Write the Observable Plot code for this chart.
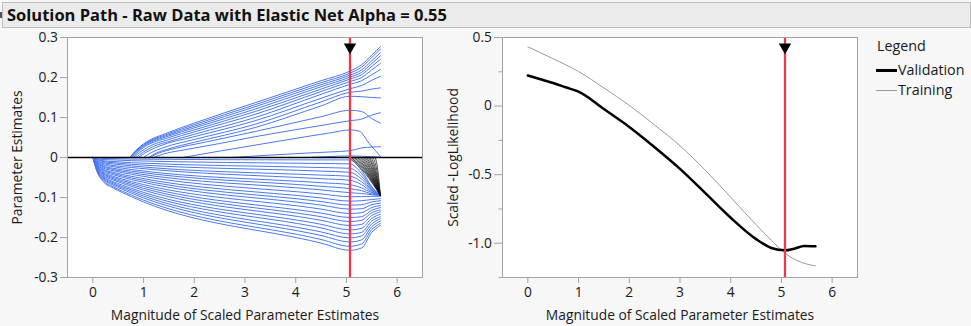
<!DOCTYPE html>
<html><head><meta charset="utf-8">
<script src="https://cdn.jsdelivr.net/npm/d3@7"></script>
<script src="https://cdn.jsdelivr.net/npm/@observablehq/plot@0.6"></script>
<style>
html,body{margin:0;padding:0;background:#f7f7f7;width:971px;height:326px;overflow:hidden;font-family:"Open Sans","Noto Sans",sans-serif;color:#1a1a1a;}
#title{position:absolute;left:2px;top:2px;width:967px;height:24px;background:#ebebeb;border:1px solid #bdbdbd;}
#title span{position:absolute;left:4px;top:0;line-height:24px;font-weight:bold;font-size:16.5px;color:#111;white-space:nowrap;}
#icon{position:absolute;left:0;top:12px;width:2px;height:6px;background:#555;}
.pl{position:absolute;top:0;}
.lg{position:absolute;font-size:14.3px;line-height:18px;white-space:nowrap;}
</style></head>
<body>
<div id="title"><span>Solution Path - Raw Data with Elastic Net Alpha = 0.55</span></div>
<div id="icon"></div>
<div id="left" class="pl" style="left:0px"></div>
<div id="right" class="pl" style="left:435px"></div>
<div class="lg" style="left:877px;top:37px">Legend</div>
<svg style="position:absolute;left:876px;top:60px" width="22" height="40">
  <line x1="0" x2="21" y1="10.5" y2="10.5" stroke="#000" stroke-width="3"/>
  <line x1="0" x2="21" y1="30.5" y2="30.5" stroke="#999" stroke-width="1"/>
</svg>
<div class="lg" style="left:898px;top:61px">Validation</div>
<div class="lg" style="left:898px;top:81px">Training</div>
<script>
// ---------- data ----------
const xTicks = [0, 1, 2, 3, 4, 5, 6];
const leftYTicks = [-0.3, -0.2, -0.1, 0, 0.1, 0.2, 0.3];
const rightYTicks = [-1.0, -0.5, 0, 0.5];
const rightYMinor = [-1.25, -0.75, -0.25, 0.25];
const selectedX = 5.07;

// negative parameter paths: y values at these knots
const negKnotsX = [0, 0.07, 0.2, 0.4, 0.76, 4.5, 5.07, 5.3, 5.5, 5.67];
const negLines = [
  [0,-0.001,-0.002,-0.003,-0.004,-0.006,-0.006,-0.033,-0.073,-0.095],
  [0,-0.003,-0.005,-0.006,-0.008,-0.015,-0.016,-0.040,-0.075,-0.095],
  [0,-0.004,-0.008,-0.010,-0.013,-0.025,-0.027,-0.047,-0.078,-0.095],
  [0,-0.005,-0.010,-0.013,-0.017,-0.034,-0.037,-0.054,-0.081,-0.095],
  [0,-0.007,-0.013,-0.016,-0.021,-0.044,-0.047,-0.061,-0.083,-0.095],
  [0,-0.008,-0.015,-0.020,-0.025,-0.053,-0.057,-0.068,-0.086,-0.095],
  [0,-0.010,-0.018,-0.023,-0.030,-0.063,-0.068,-0.076,-0.088,-0.095],
  [0,-0.011,-0.021,-0.027,-0.034,-0.072,-0.078,-0.083,-0.091,-0.095],
  [0,-0.012,-0.023,-0.030,-0.038,-0.081,-0.088,-0.090,-0.093,-0.095],
  [0,-0.013,-0.026,-0.033,-0.042,-0.091,-0.098,-0.098,-0.097,-0.097],
  [0,-0.015,-0.029,-0.037,-0.047,-0.101,-0.109,-0.108,-0.105,-0.103],
  [0,-0.016,-0.031,-0.040,-0.051,-0.110,-0.119,-0.118,-0.111,-0.108],
  [0,-0.018,-0.034,-0.043,-0.055,-0.119,-0.129,-0.128,-0.118,-0.114],
  [0,-0.019,-0.037,-0.047,-0.060,-0.129,-0.140,-0.138,-0.125,-0.120],
  [0,-0.020,-0.039,-0.050,-0.064,-0.139,-0.150,-0.148,-0.132,-0.125],
  [0,-0.022,-0.041,-0.053,-0.068,-0.148,-0.160,-0.157,-0.138,-0.131],
  [0,-0.023,-0.044,-0.056,-0.072,-0.157,-0.170,-0.167,-0.145,-0.136],
  [0,-0.025,-0.047,-0.060,-0.077,-0.167,-0.181,-0.177,-0.152,-0.142],
  [0,-0.026,-0.049,-0.063,-0.081,-0.176,-0.191,-0.187,-0.159,-0.148],
  [0,-0.027,-0.052,-0.066,-0.085,-0.186,-0.201,-0.196,-0.166,-0.153],
  [0,-0.028,-0.054,-0.069,-0.089,-0.195,-0.211,-0.206,-0.173,-0.159],
  [0,-0.030,-0.057,-0.073,-0.094,-0.205,-0.222,-0.216,-0.180,-0.165],
  [0,-0.031,-0.060,-0.076,-0.098,-0.214,-0.232,-0.226,-0.187,-0.170]
];

// positive parameter paths: [x, y] points
const posLines = [
  [[0.73,0],[0.85,0.018],[1.0,0.034],[1.5,0.063],[2.0,0.086],[3.2,0.137],[4.5,0.192],[5.07,0.216],[5.3,0.232],[5.5,0.256],[5.67,0.277]],
  [[0.73,0],[0.85,0.017],[1.0,0.032],[1.5,0.060],[2.0,0.082],[3.2,0.132],[4.5,0.187],[5.07,0.211],[5.3,0.226],[5.5,0.250],[5.67,0.271]],
  [[0.74,0],[0.86,0.016],[1.0,0.030],[1.5,0.057],[2.0,0.078],[3.2,0.127],[4.5,0.182],[5.07,0.206],[5.3,0.219],[5.5,0.242],[5.67,0.262]],
  [[0.75,0],[0.87,0.015],[1.0,0.028],[1.5,0.054],[2.0,0.074],[3.2,0.121],[4.5,0.177],[5.07,0.201],[5.3,0.213],[5.5,0.235],[5.67,0.254]],
  [[0.77,0],[0.9,0.015],[1.0,0.025],[1.5,0.050],[2.0,0.069],[3.2,0.115],[4.5,0.171],[5.07,0.196],[5.3,0.207],[5.5,0.228],[5.67,0.245]],
  [[0.8,0],[0.95,0.015],[1.1,0.027],[1.5,0.045],[2.0,0.064],[3.2,0.108],[4.5,0.165],[5.07,0.190],[5.3,0.200],[5.5,0.219],[5.67,0.235]],
  [[0.85,0],[1.0,0.014],[1.2,0.028],[1.5,0.040],[2.0,0.058],[3.2,0.100],[4.5,0.158],[5.07,0.183],[5.3,0.192],[5.5,0.207],[5.67,0.220]],
  [[0.9,0],[1.05,0.013],[1.3,0.028],[2.0,0.052],[3.2,0.092],[4.5,0.148],[5.07,0.172],[5.3,0.180],[5.5,0.193],[5.67,0.203]],
  [[1.0,0],[1.15,0.012],[1.4,0.025],[2.0,0.045],[3.2,0.083],[4.5,0.139],[5.07,0.163],[5.3,0.166],[5.5,0.171],[5.67,0.174]],
  [[1.1,0],[1.25,0.011],[1.5,0.022],[2.0,0.038],[3.2,0.075],[4.5,0.129],[5.07,0.153],[5.3,0.152],[5.5,0.150],[5.67,0.149]],
  [[1.12,0],[1.3,0.011],[1.6,0.022],[2.2,0.038],[3.2,0.065],[4.5,0.102],[5.07,0.118],[5.3,0.115],[5.5,0.097],[5.67,0.086]],
  [[1.2,0],[1.4,0.009],[1.8,0.019],[2.5,0.035],[3.2,0.052],[4.5,0.080],[5.07,0.092],[5.3,0.096],[5.5,0.106],[5.67,0.112]],
  [[1.77,0],[2.5,0.016],[3.2,0.031],[4.2,0.052],[4.7,0.062],[5.07,0.069],[5.25,0.066],[5.45,0.035],[5.67,0.003]],
  [[2.72,0],[3.5,0.006],[4.2,0.011],[4.7,0.014],[5.07,0.017],[5.3,0.024],[5.5,0.026],[5.67,0.027]],
  [[4.2,0],[4.6,0.002],[5.07,0.004],[5.3,0.003],[5.67,0.001]]
];

// late-entering paths drawn in black: [start, mid, end] points
const blackLines = [
  [[5.07,0],[5.37,-0.040],[5.67,-0.095]],
  [[5.10,0],[5.385,-0.039],[5.67,-0.095]],
  [[5.13,0],[5.40,-0.038],[5.67,-0.095]],
  [[5.16,0],[5.415,-0.038],[5.67,-0.095]],
  [[5.19,0],[5.43,-0.037],[5.67,-0.095]],
  [[5.22,0],[5.445,-0.037],[5.67,-0.095]],
  [[5.25,0],[5.46,-0.036],[5.67,-0.095]],
  [[5.28,0],[5.475,-0.036],[5.67,-0.095]],
  [[5.31,0],[5.49,-0.035],[5.67,-0.095]],
  [[5.34,0],[5.505,-0.035],[5.67,-0.095]],
  [[5.37,0],[5.52,-0.034],[5.67,-0.095]],
  [[5.40,0],[5.535,-0.034],[5.67,-0.095]],
  [[5.43,0],[5.55,-0.033],[5.67,-0.095]],
  [[5.46,0],[5.565,-0.033],[5.67,-0.095]],
  [[5.49,0],[5.58,-0.032],[5.67,-0.095]],
  [[5.53,0],[5.60,-0.032],[5.67,-0.095]],
  [[5.57,0],[5.62,-0.032],[5.67,-0.095]]
];

const trainX = [0, 0.5, 1, 1.5, 2, 2.5, 3, 3.5, 4, 4.5, 4.8, 5.07, 5.3, 5.5, 5.67];
const trainY = [0.432, 0.345, 0.252, 0.132, 0.005, -0.138, -0.29, -0.468, -0.665, -0.865, -0.978, -1.072, -1.125, -1.152, -1.165];
const validX = [0, 0.3, 0.5, 0.76, 1, 1.5, 2, 2.5, 3, 3.5, 4, 4.5, 4.8, 5.07, 5.25, 5.45, 5.67];
const validY = [0.223, 0.19, 0.168, 0.135, 0.105, -0.022, -0.152, -0.3, -0.458, -0.635, -0.814, -0.97, -1.035, -1.052, -1.04, -1.02, -1.023];

// ---------- styles ----------
const blue = "#4a78ee";
const red = "#e8394d";
const frameGray = "#a3a3a3";
const textColor = "#1a1a1a";
const fontFamily = '"Open Sans","Noto Sans",sans-serif';
const tickFont = 13.8;
const titleFont = 13.8;
const fmt = d => (d === 0 ? "0" : d.toFixed(1));

// ---------- tables ----------
const negData = negLines.flatMap((ys, i) => ys.map((y, j) => ({id: "n" + i, x: negKnotsX[j], y})));
const posData = posLines.flatMap((pts, i) => pts.map(([x, y]) => ({id: "p" + i, x, y})));
const blkData = blackLines.flatMap((pts, i) => pts.map(([x, y]) => ({id: "b" + i, x, y})));
const trainData = trainX.map((x, i) => ({x, y: trainY[i]}));
const validData = validX.map((x, i) => ({x, y: validY[i]}));

const common = {
  width: 423, height: 326,
  marginLeft: 67, marginRight: 1, marginTop: 37, marginBottom: 49,
  style: {background: "transparent", fontFamily, fontSize: "14px", color: textColor, overflow: "visible"}
};
const xAxis = () => Plot.axisX({ticks: xTicks, tickSize: 6, tickPadding: 4, tickFormat: d => String(d), label: null, stroke: frameGray, fill: textColor, fontSize: tickFont});
const xTitle = () => Plot.text(["Magnitude of Scaled Parameter Estimates"], {frameAnchor: "bottom", dy: 38, lineAnchor: "middle", fontSize: titleFont, fill: textColor});
const yTitle = (label, dx) => Plot.text([label], {frameAnchor: "left", dx, rotate: -90, textAnchor: "middle", lineAnchor: "middle", fontSize: titleFont, fill: textColor});
const marker = () => Plot.dot([selectedX], {x: d => d, frameAnchor: "top", dy: 9.5, symbol: "triangle", rotate: 180, r: 4.6, fill: "black", stroke: "none"});

const left = Plot.plot({
  ...common,
  x: {domain: [-0.5, 6.5]},
  y: {domain: [-0.3, 0.3]},
  marks: [
    Plot.frame({fill: "white", stroke: null}),
    Plot.line(negData, {x: "x", y: "y", z: "id", stroke: blue, strokeWidth: 1, curve: "monotone-x"}),
    Plot.line(posData, {x: "x", y: "y", z: "id", stroke: blue, strokeWidth: 1, curve: "monotone-x"}),
    Plot.line(blkData, {x: "x", y: "y", z: "id", stroke: "#111", strokeWidth: 0.7, curve: "monotone-x"}),
    Plot.ruleY([0], {stroke: "black", strokeWidth: 1.3}),
    Plot.ruleX([selectedX], {stroke: red, strokeWidth: 2.3}),
    marker(),
    Plot.frame({stroke: frameGray}),
    xAxis(),
    Plot.axisY({ticks: leftYTicks, tickSize: 7, tickPadding: 2.5, tickFormat: fmt, label: null, stroke: frameGray, fill: textColor, fontSize: tickFont}),
    xTitle(),
    yTitle("Parameter Estimates", -50)
  ]
});
document.getElementById("left").append(left);

const right = Plot.plot({
  ...common,
  x: {domain: [-0.5, 6.5]},
  y: {domain: [-1.25, 0.5]},
  marks: [
    Plot.frame({fill: "white", stroke: null}),
    Plot.line(trainData, {x: "x", y: "y", stroke: "#999", strokeWidth: 1, curve: "monotone-x"}),
    Plot.line(validData, {x: "x", y: "y", stroke: "black", strokeWidth: 2.5, curve: "monotone-x"}),
    Plot.ruleX([selectedX], {stroke: red, strokeWidth: 2.3}),
    marker(),
    Plot.frame({stroke: frameGray}),
    xAxis(),
    Plot.axisY({ticks: rightYTicks, tickSize: 8, tickPadding: 2.5, tickFormat: fmt, label: null, stroke: frameGray, fill: textColor, fontSize: tickFont}),
    Plot.axisY({ticks: rightYMinor, tickSize: 3.5, text: null, label: null, stroke: frameGray}),
    xTitle(),
    yTitle("Scaled -LogLikelihood", -49)
  ]
});
document.getElementById("right").append(right);
</script>
</body></html>
